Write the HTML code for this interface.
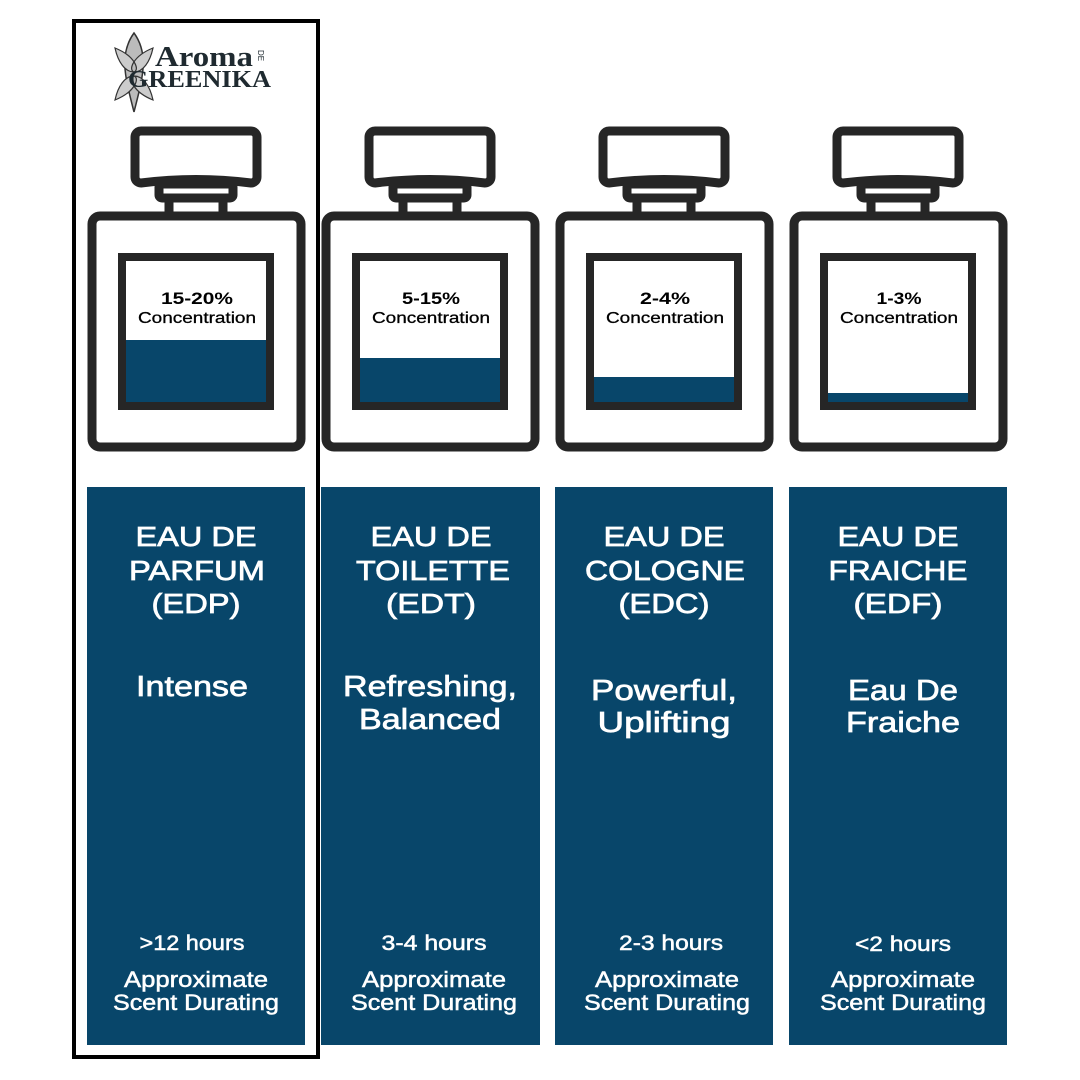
<!DOCTYPE html>
<html><head><meta charset="utf-8"><style>
html,body{margin:0;padding:0;background:#fff;}
svg{display:block;}
text{font-family:"Liberation Sans",sans-serif;}
text.serif{font-family:"Liberation Serif",serif;}
</style></head><body>
<svg width="1080" height="1080" viewBox="0 0 1080 1080" xmlns="http://www.w3.org/2000/svg">
<rect width="1080" height="1080" fill="#fff"/>
<defs>
<g id="bottle" fill="none" stroke="#262626" stroke-width="9" stroke-linejoin="round">
  <path d="M-55,-65 h110 a6,6 0 0 1 6,6 v40 a6,6 0 0 1 -6,6 q-55,-7 -110,0 a6,6 0 0 1 -6,-6 v-40 a6,6 0 0 1 6,-6z"/>
  <rect x="-37" y="-12" width="74" height="14" rx="3"/>
  <rect x="-27" y="2" width="54" height="18"/>
  <rect x="-104" y="20" width="209" height="231" rx="8"/>
</g>
</defs>
<rect x="87" y="487" width="218" height="558" fill="#08466a"/>
<rect x="321" y="487" width="219" height="558" fill="#08466a"/>
<rect x="555" y="487" width="218" height="558" fill="#08466a"/>
<rect x="789" y="487" width="218" height="558" fill="#08466a"/>
<rect x="74" y="21" width="244" height="1036" fill="none" stroke="#000" stroke-width="4"/>
<g transform="translate(196,196)"><use href="#bottle"/></g>
<g transform="translate(430,196)"><use href="#bottle"/></g>
<g transform="translate(664,196)"><use href="#bottle"/></g>
<g transform="translate(898,196)"><use href="#bottle"/></g>
<g stroke="#262626" stroke-width="8">
<rect x="122" y="257" width="148" height="149" fill="#fff"/>
<rect x="356" y="257" width="148" height="149" fill="#fff"/>
<rect x="590" y="257" width="148" height="149" fill="#fff"/>
<rect x="824" y="257" width="148" height="149" fill="#fff"/>
</g>
<g fill="#08466a">
<rect x="126" y="340" width="140" height="62"/>
<rect x="360" y="358" width="140" height="44"/>
<rect x="594" y="377" width="140" height="25"/>
<rect x="828" y="393" width="140" height="9"/>
</g>
<g text-anchor="middle" fill="#000">
<text x="197" y="304" font-size="17" font-weight="bold" textLength="72" lengthAdjust="spacingAndGlyphs">15-20%</text>
<text x="197" y="323" font-size="16" stroke="#000" stroke-width="0.3" textLength="118" lengthAdjust="spacingAndGlyphs">Concentration</text>
<text x="431" y="304" font-size="17" font-weight="bold" textLength="58" lengthAdjust="spacingAndGlyphs">5-15%</text>
<text x="431" y="323" font-size="16" stroke="#000" stroke-width="0.3" textLength="118" lengthAdjust="spacingAndGlyphs">Concentration</text>
<text x="665" y="304" font-size="17" font-weight="bold" textLength="50" lengthAdjust="spacingAndGlyphs">2-4%</text>
<text x="665" y="323" font-size="16" stroke="#000" stroke-width="0.3" textLength="118" lengthAdjust="spacingAndGlyphs">Concentration</text>
<text x="899" y="304" font-size="17" font-weight="bold" textLength="45" lengthAdjust="spacingAndGlyphs">1-3%</text>
<text x="899" y="323" font-size="16" stroke="#000" stroke-width="0.3" textLength="118" lengthAdjust="spacingAndGlyphs">Concentration</text>
</g>
<g>
<path d="M134,33 C150,55 142,80 134,112 C126,80 118,55 134,33Z" fill="#bbb" stroke="#333" stroke-width="1.5"/>
<path d="M115,48 C135,56 140,70 134,72 C125,72 118,62 115,48Z M153,48 C133,56 128,70 134,72 C143,72 150,62 153,48Z" fill="#ccc" stroke="#333" stroke-width="1.2"/>
<path d="M115,100 C135,92 140,78 134,76 C125,76 118,86 115,100Z M153,100 C133,92 128,78 134,76 C143,76 150,86 153,100Z" fill="#ccc" stroke="#333" stroke-width="1.2"/>
<text class="serif" x="155" y="66" font-size="28" font-weight="bold" fill="#1f2a30" textLength="98" lengthAdjust="spacingAndGlyphs">Aroma</text>
<text class="serif" x="128" y="87" font-size="24" font-weight="bold" fill="#1f2a30" textLength="143" lengthAdjust="spacingAndGlyphs">GREENIKA</text>
<text x="258" y="50" font-size="8" fill="#1f2a30" transform="rotate(90 258 50)">DE</text>
</g>
<g text-anchor="middle" fill="#fff" stroke="#fff" stroke-width="0.7" font-size="28">
<text x="196" y="546" textLength="121" lengthAdjust="spacingAndGlyphs">EAU DE</text><text x="197" y="580" textLength="136" lengthAdjust="spacingAndGlyphs">PARFUM</text><text x="196" y="613" textLength="89" lengthAdjust="spacingAndGlyphs">(EDP)</text>
<text x="431" y="546" textLength="121" lengthAdjust="spacingAndGlyphs">EAU DE</text><text x="433" y="580" textLength="154" lengthAdjust="spacingAndGlyphs">TOILETTE</text><text x="431" y="613" textLength="90" lengthAdjust="spacingAndGlyphs">(EDT)</text>
<text x="664" y="546" textLength="121" lengthAdjust="spacingAndGlyphs">EAU DE</text><text x="665" y="580" textLength="160" lengthAdjust="spacingAndGlyphs">COLOGNE</text><text x="664" y="613" textLength="91" lengthAdjust="spacingAndGlyphs">(EDC)</text>
<text x="898" y="546" textLength="121" lengthAdjust="spacingAndGlyphs">EAU DE</text><text x="898" y="580" textLength="139" lengthAdjust="spacingAndGlyphs">FRAICHE</text><text x="898" y="613" textLength="89" lengthAdjust="spacingAndGlyphs">(EDF)</text>
</g>
<g text-anchor="middle" fill="#fff" stroke="#fff" stroke-width="0.7" font-size="29">
<text x="192" y="696" textLength="112" lengthAdjust="spacingAndGlyphs">Intense</text>
<text x="430" y="696" textLength="174" lengthAdjust="spacingAndGlyphs">Refreshing,</text><text x="430" y="729" textLength="142" lengthAdjust="spacingAndGlyphs">Balanced</text>
<text x="664" y="700" textLength="146" lengthAdjust="spacingAndGlyphs">Powerful,</text><text x="664" y="732" textLength="133" lengthAdjust="spacingAndGlyphs">Uplifting</text>
<text x="903" y="700" textLength="110" lengthAdjust="spacingAndGlyphs">Eau De</text><text x="903" y="732" textLength="114" lengthAdjust="spacingAndGlyphs">Fraiche</text>
</g>
<g text-anchor="middle" fill="#fff" stroke="#fff" stroke-width="0.5" font-size="21">
<text x="192" y="950" textLength="105" lengthAdjust="spacingAndGlyphs">&gt;12 hours</text>
<text x="434" y="950" textLength="105" lengthAdjust="spacingAndGlyphs">3-4 hours</text>
<text x="671" y="950" textLength="104" lengthAdjust="spacingAndGlyphs">2-3 hours</text>
<text x="903" y="951" textLength="96" lengthAdjust="spacingAndGlyphs">&lt;2 hours</text>
</g>
<g text-anchor="middle" fill="#fff" stroke="#fff" stroke-width="0.5" font-size="22">
<text x="196" y="987" textLength="144" lengthAdjust="spacingAndGlyphs">Approximate</text><text x="196" y="1010" textLength="166" lengthAdjust="spacingAndGlyphs">Scent Durating</text>
<text x="434" y="987" textLength="144" lengthAdjust="spacingAndGlyphs">Approximate</text><text x="434" y="1010" textLength="166" lengthAdjust="spacingAndGlyphs">Scent Durating</text>
<text x="667" y="987" textLength="144" lengthAdjust="spacingAndGlyphs">Approximate</text><text x="667" y="1010" textLength="166" lengthAdjust="spacingAndGlyphs">Scent Durating</text>
<text x="903" y="987" textLength="144" lengthAdjust="spacingAndGlyphs">Approximate</text><text x="903" y="1010" textLength="166" lengthAdjust="spacingAndGlyphs">Scent Durating</text>
</g>
</svg>
</body></html>
